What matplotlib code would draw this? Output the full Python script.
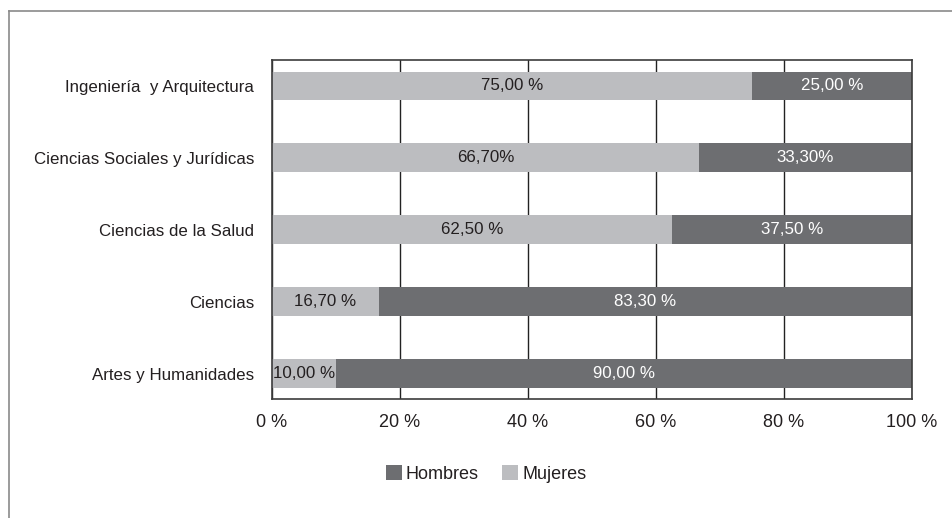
import matplotlib
matplotlib.use('Agg')
import matplotlib.pyplot as plt
from matplotlib.lines import Line2D
import numpy as np

plt.rcParams['font.family'] = ['Liberation Sans', 'DejaVu Sans']

# Areas from bottom to top of the chart
areas = ['Artes y Humanidades', 'Ciencias', 'Ciencias de la Salud',
         'Ciencias Sociales y Jurídicas', 'Ingeniería  y Arquitectura']
mujeres = [10.0, 16.7, 62.5, 66.7, 75.0]
hombres = [90.0, 83.3, 37.5, 33.3, 25.0]
pct_sep = [' ', ' ', ' ', '', ' ']   # some labels print the % sign without a space
ticks = [0, 20, 40, 60, 80, 100]

light = '#bcbdc0'
dark = '#6d6e71'
txt = '#231f20'

fig = plt.figure(figsize=(9.53, 5.18), dpi=100)
ax = fig.add_axes([0.2854, 0.2297, 0.6716, 0.6545])

y = np.arange(len(areas))
bm = ax.barh(y, mujeres, height=0.4, color=light, label='Mujeres', zorder=2)
bh = ax.barh(y, hombres, left=mujeres, height=0.4, color=dark, label='Hombres', zorder=2)

def fmt(v, sep):
    return '{:.2f}'.format(v).replace('.', ',') + sep + '%'

for i in range(len(areas)):
    ax.text(mujeres[i] / 2, y[i], fmt(mujeres[i], pct_sep[i]), ha='center', va='center',
            fontsize=12.2, color=txt, zorder=3)
    ax.text(mujeres[i] + hombres[i] / 2, y[i], fmt(hombres[i], pct_sep[i]), ha='center',
            va='center', fontsize=12.2, color='white', zorder=3)

ax.set_xlim(0, 100)
ax.set_ylim(-0.35, 4.36)
ax.set_xticks(ticks)
ax.set_xticklabels(['{} %'.format(t) for t in ticks], fontsize=13, color=txt)
ax.set_yticks(y)
ax.set_yticklabels(areas, fontsize=12.2, color=txt)
ax.tick_params(axis='x', length=0, pad=11)
ax.tick_params(axis='y', length=0, pad=13)
ax.xaxis.grid(True, color='#222222', linewidth=1.0, zorder=0)
ax.set_axisbelow(True)
for s in ax.spines.values():
    s.set_color('#3c3c3c')
    s.set_linewidth(1.2)

fig.legend(handles=[bh, bm], labels=['Hombres', 'Mujeres'], loc='center',
           bbox_to_anchor=(0.51, 0.085), ncol=2, frameon=False, fontsize=13,
           handlelength=0.9, handleheight=0.9, handletextpad=0.2, columnspacing=1.3,
           labelcolor=txt)

# outer frame: top and left border only
fig.add_artist(Line2D([9 / 953, 1.0], [1 - 11 / 518, 1 - 11 / 518], color='#8a8a8a', linewidth=1.2))
fig.add_artist(Line2D([9 / 953, 9 / 953], [0.0, 1 - 11 / 518], color='#8a8a8a', linewidth=1.2))

fig.savefig('out.png', dpi=100)
